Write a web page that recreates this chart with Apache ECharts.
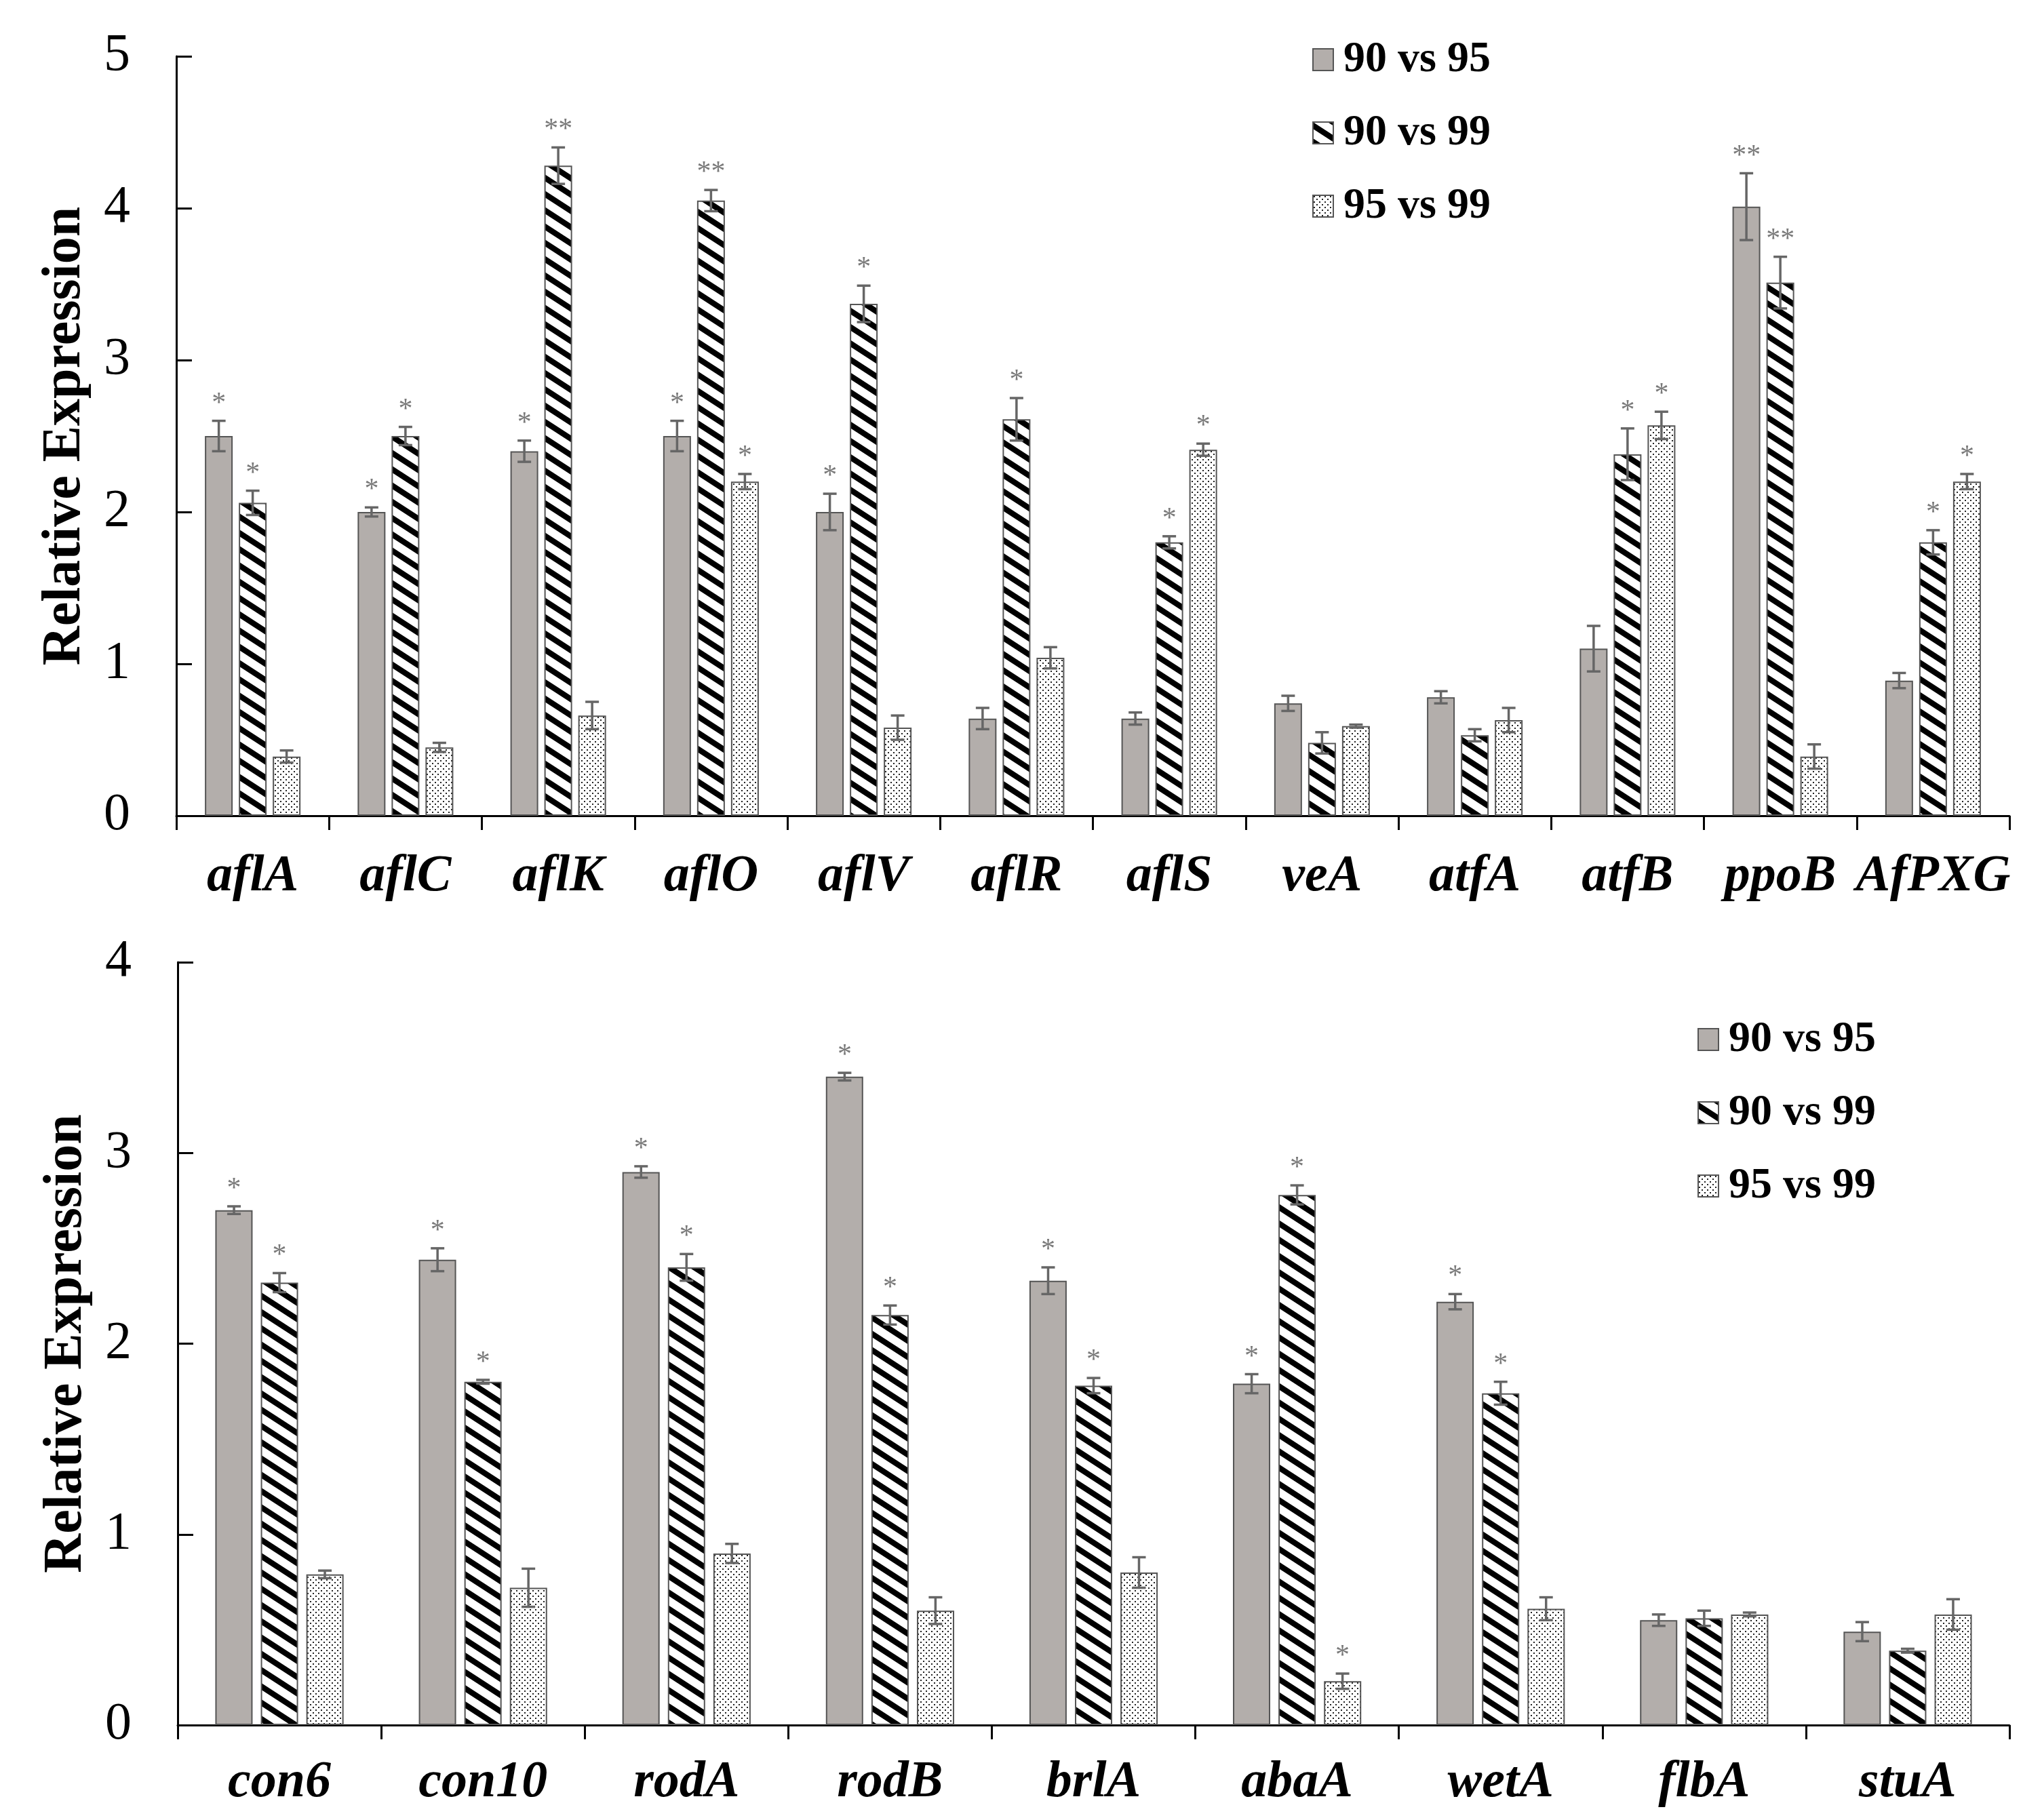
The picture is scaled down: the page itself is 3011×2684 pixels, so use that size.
<!DOCTYPE html>
<html><head><meta charset="utf-8">
<script src="https://cdn.jsdelivr.net/npm/echarts@6/dist/echarts.min.js"></script>
<style>html,body{margin:0;padding:0;background:#fff}#c{width:3011px;height:2684px}</style>
</head><body><div id="c"></div>
<script>
// ---------- data ----------
const seriesNames = ['90 vs 95', '90 vs 99', '95 vs 99'];

const topGenes = ['aflA','aflC','aflK','aflO','aflV','aflR','aflS','veA','atfA','atfB','ppoB','AfPXG'];
const top9095    = [2.50, 2.00, 2.40, 2.50, 2.00, 0.64, 0.64, 0.74, 0.78, 1.10, 4.01, 0.89];
const top9095Err = [0.10, 0.03, 0.07, 0.10, 0.12, 0.07, 0.04, 0.05, 0.04, 0.15, 0.22, 0.05];
const top9095Sig = ['*','*','*','*','*','','','','','','**',''];
const top9099    = [2.06, 2.50, 4.28, 4.05, 3.37, 2.61, 1.80, 0.48, 0.53, 2.38, 3.51, 1.80];
const top9099Err = [0.08, 0.06, 0.12, 0.07, 0.12, 0.14, 0.04, 0.07, 0.04, 0.17, 0.17, 0.08];
const top9099Sig = ['*','*','**','**','*','*','*','','','*','**','*'];
const top9599    = [0.39, 0.45, 0.66, 2.20, 0.58, 1.04, 2.41, 0.59, 0.63, 2.57, 0.39, 2.20];
const top9599Err = [0.04, 0.03, 0.09, 0.05, 0.08, 0.07, 0.04, 0.01, 0.08, 0.09, 0.08, 0.05];
const top9599Sig = ['','','','*','','','*','','','*','','*'];
const topTicks = [0, 5, 1];

const botGenes = ['con6','con10','rodA','rodB','brlA','abaA','wetA','flbA','stuA'];
const bot9095    = [2.70, 2.44, 2.90, 3.40, 2.33, 1.79, 2.22, 0.55, 0.49];
const bot9095Err = [0.02, 0.06, 0.03, 0.02, 0.07, 0.05, 0.04, 0.03, 0.05];
const bot9095Sig = ['*','*','*','*','*','*','*','',''];
const bot9099    = [2.32, 1.80, 2.40, 2.15, 1.78, 2.78, 1.74, 0.56, 0.39];
const bot9099Err = [0.05, 0.01, 0.07, 0.05, 0.04, 0.05, 0.06, 0.04, 0.01];
const bot9099Sig = ['*','*','*','*','*','*','*','',''];
const bot9599    = [0.79, 0.72, 0.90, 0.60, 0.80, 0.23, 0.61, 0.58, 0.58];
const bot9599Err = [0.02, 0.10, 0.05, 0.07, 0.08, 0.04, 0.06, 0.01, 0.08];
const bot9599Sig = ['','','','','','*','','',''];
const botTicks = [0, 4, 1];

// ---------- patterns ----------
function hatchCanvas() {
  const W = 37, H = 24, t = 10;
  const c = document.createElement('canvas'); c.width = W; c.height = H;
  const g = c.getContext('2d');
  g.fillStyle = '#fff'; g.fillRect(0, 0, W, H);
  g.fillStyle = '#000';
  for (let k = -1; k <= 1; k++) {
    g.beginPath();
    g.moveTo(0, k * H); g.lineTo(W, k * H + H);
    g.lineTo(W, k * H + H + t); g.lineTo(0, k * H + t);
    g.closePath(); g.fill();
  }
  return c;
}
function dotCanvas() {
  const c = document.createElement('canvas'); c.width = 8; c.height = 8;
  const g = c.getContext('2d');
  g.fillStyle = '#fff'; g.fillRect(0, 0, 8, 8);
  g.fillStyle = '#222';
  g.fillRect(1, 1, 2, 2); g.fillRect(5, 5, 2, 2);
  return c;
}
const fills = [
  '#b3aeab',
  { image: hatchCanvas(), repeat: 'repeat' },
  { image: dotCanvas(), repeat: 'repeat' }
];

const FONT = 'Liberation Serif, Times New Roman, serif';

// ---------- builders ----------
function yAxis(gridIndex, ticks) {
  return {
    type: 'value', gridIndex, min: ticks[0], max: ticks[1], interval: ticks[2],
    name: 'Relative Expression', nameLocation: 'middle', nameGap: 124,
    nameTextStyle: { fontFamily: FONT, fontWeight: 'bold', fontSize: 80, color: '#000' },
    axisLine: { show: true, lineStyle: { color: '#000', width: 3 } },
    axisTick: { show: true, inside: true, length: 23, lineStyle: { color: '#000', width: 3 } },
    axisLabel: { fontFamily: FONT, fontSize: 78, color: '#000', margin: 68 },
    splitLine: { show: false }
  };
}
function xAxis(gridIndex, cats, margin) {
  return {
    type: 'category', gridIndex, data: cats, boundaryGap: true,
    axisLine: { show: true, lineStyle: { color: '#000', width: 3 } },
    axisTick: { show: true, inside: false, length: 21, alignWithLabel: false, interval: 0, lineStyle: { color: '#000', width: 3 } },
    axisLabel: { interval: 0, fontFamily: FONT, fontStyle: 'italic', fontWeight: 'bold', fontSize: 76, color: '#000', margin: margin }
  };
}
function barSeries(name, idx, vals, axisIdx, barWidth, barGap) {
  return {
    type: 'bar', name, xAxisIndex: axisIdx, yAxisIndex: axisIdx,
    data: vals, barWidth, barGap,
    itemStyle: { color: fills[idx], borderColor: '#555', borderWidth: 2 },
    emphasis: { disabled: true }, animation: false, z: 2
  };
}
function errSeries(vals, errs, sigs, axisIdx, offset) {
  return {
    type: 'custom', xAxisIndex: axisIdx, yAxisIndex: axisIdx, z: 5, animation: false,
    silent: true,
    data: vals.map((v, i) => [i, v, errs[i]]),
    renderItem: function (params, api) {
      const i = api.value(0), v = api.value(1), e = api.value(2);
      const pT = api.coord([i, v + e]);
      const pB = api.coord([i, v - e]);
      const cx = pT[0] + offset;
      const cap = 10;
      const st = { stroke: '#666', lineWidth: 3.5 };
      const children = [
        { type: 'line', shape: { x1: cx, y1: pT[1], x2: cx, y2: pB[1] }, style: st },
        { type: 'line', shape: { x1: cx - cap, y1: pT[1], x2: cx + cap, y2: pT[1] }, style: st },
        { type: 'line', shape: { x1: cx - cap, y1: pB[1], x2: cx + cap, y2: pB[1] }, style: st }
      ];
      const s = sigs[params.dataIndex];
      if (s) {
        children.push({
          type: 'text',
          style: { text: s, x: cx, y: pT[1] - 4, align: 'center', verticalAlign: 'bottom',
                   fontFamily: FONT, fontSize: 42, fill: '#7a7a7a' }
        });
      }
      return { type: 'group', children };
    }
  };
}
function legend(left, top) {
  return {
    data: seriesNames, orient: 'vertical', left, top,
    itemWidth: 30, itemHeight: 32, itemGap: 44, icon: 'rect',
    selectedMode: false,
    textStyle: { fontFamily: FONT, fontWeight: 'bold', fontSize: 64, lineHeight: 64, color: '#000', padding: [0, 0, 0, 10] }
  };
}

const topVals = [top9095, top9099, top9599];
const topErrs = [top9095Err, top9099Err, top9599Err];
const topSigs = [top9095Sig, top9099Sig, top9599Sig];
const botVals = [bot9095, bot9099, bot9599];
const botErrs = [bot9095Err, bot9099Err, bot9599Err];
const botSigs = [bot9095Sig, bot9099Sig, bot9599Sig];

const series = [];
const TW = 41, TG = 9, BW = 55, BG = 12;
for (let k = 0; k < 3; k++) {
  series.push(barSeries(seriesNames[k], k, topVals[k], 0, TW, Math.round(TG / TW * 100) + '%'));
}
for (let k = 0; k < 3; k++) {
  series.push(barSeries(seriesNames[k], k, botVals[k], 1, BW, Math.round(BG / BW * 100) + '%'));
}
for (let k = 0; k < 3; k++) {
  series.push(errSeries(topVals[k], topErrs[k], topSigs[k], 0, (k - 1) * (TW + TG)));
  series.push(errSeries(botVals[k], botErrs[k], botSigs[k], 1, (k - 1) * (BW + BG)));
}

const chart = echarts.init(document.getElementById('c'), null, { renderer: 'canvas' });
chart.setOption({
  backgroundColor: '#fff',
  animation: false,
  grid: [
    { left: 260, right: 48, top: 83, height: 1120 },
    { left: 262, right: 48, top: 1419, height: 1125 }
  ],
  xAxis: [xAxis(0, topGenes, 52), xAxis(1, botGenes, 47)],
  yAxis: [yAxis(0, topTicks), yAxis(1, botTicks)],
  legend: [legend(1930, 51), legend(2498, 1496)],
  series
});
</script>
</body></html>
